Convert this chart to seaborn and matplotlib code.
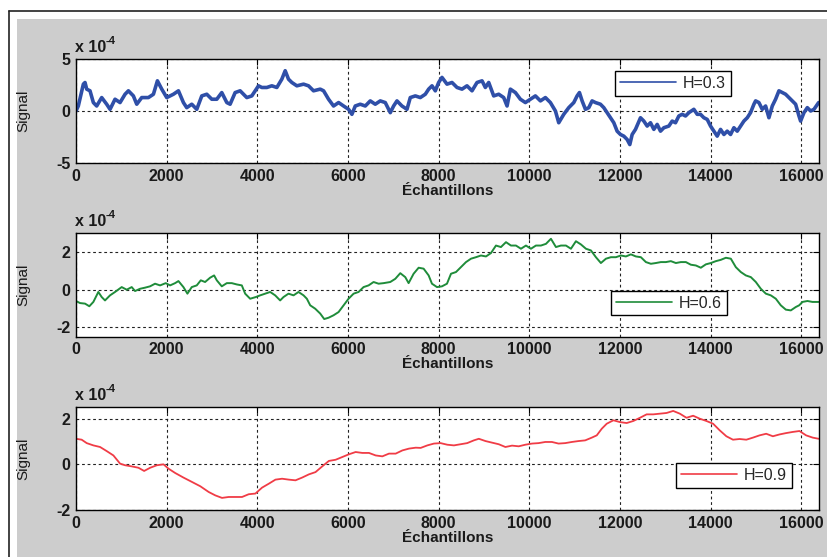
import matplotlib
matplotlib.use("Agg")
import matplotlib.pyplot as plt
import seaborn as sns
from matplotlib.lines import Line2D
from matplotlib.patches import Rectangle

# Sample index (Échantillons) and signal amplitude in units of 1e-4
samples_h03 = [0, 51, 162, 199, 236, 309, 383, 456, 567, 677, 751, 861, 972, 1082, 1156, 1266, 1340, 1450,
               1597, 1708, 1796, 1892, 2002, 2149, 2260, 2370, 2443, 2554, 2664, 2775, 2885, 2996, 3106,
               3216, 3327, 3400, 3511, 3621, 3768, 3879, 3952, 4026, 4100, 4210, 4320, 4431, 4541, 4615,
               4688, 4762, 4872, 5020, 5130, 5240, 5388,
               5462, 5572, 5682, 5793, 5903, 6014, 6087, 6161, 6271, 6382, 6492, 6602, 6713, 6823, 6934,
               7007, 7081, 7191, 7302, 7375, 7486, 7596, 7706, 7780, 7854, 7927, 8001, 8074, 8185, 8295,
               8406, 8516, 8626, 8737, 8847, 8958, 9031, 9105, 9215, 9326, 9436, 9510, 9583, 9694, 9804,
               9914, 10025, 10135, 10246, 10356, 10466, 10577, 10650, 10761, 10871,
               10982, 11055, 11107, 11166, 11239, 11313, 11386, 11460, 11570, 11644, 11718, 11791, 11865,
               11938, 12012, 12086, 12159, 12218, 12270, 12343, 12454, 12527, 12601, 12674, 12748, 12822,
               12895, 12969, 13079, 13153, 13226, 13300, 13374, 13447, 13521, 13631, 13705, 13778, 13852,
               13926, 13999, 14073, 14146, 14220, 14294, 14367, 14441, 14514, 14588, 14662, 14735, 14809,
               14882, 14956, 14993, 15066, 15140, 15214, 15287, 15361, 15434, 15508, 15582, 15655, 15729,
               15802, 15876, 15950, 15986, 16060, 16134, 16207, 16281, 16384]
signal_h03 = [0.00, 0.48, 2.58, 2.74, 2.10, 1.94, 0.81, 0.48, 1.29, 0.65, 0.16, 1.13, 0.81, 1.61, 1.94, 1.45,
              0.65, 1.29, 1.29, 1.61, 2.90, 2.10, 1.29, 1.61, 1.94, 0.81, 0.32, 0.65, 0.16, 1.45, 1.61, 1.13,
              1.13, 1.77, 0.81, 0.65, 1.77, 1.94, 1.29, 1.45, 1.94, 2.42, 2.26, 2.26, 2.42, 2.26, 3.06, 3.87,
              3.06, 2.74, 2.42, 2.58, 2.42, 1.94, 2.10,
              1.94, 1.13, 0.48, 0.81, 0.48, 0.16, -0.32, 0.48, 0.65, 0.48, 0.97, 0.65, 0.97, 0.81, -0.16,
              0.48, 0.97, 0.48, 0.16, 1.29, 1.45, 1.29, 1.61, 2.10, 2.42, 1.94, 2.74, 3.23, 2.58, 2.74,
              2.26, 2.10, 2.42, 1.94, 2.74, 2.90, 2.26, 2.74, 1.45, 1.61, 1.29, 0.48, 2.10, 1.77, 1.13,
              0.81, 1.13, 1.45, 0.97, 1.29, 0.81, 0.00, -1.13, -0.32, 0.32,
              0.81, 1.45, 1.77, 0.97, 0.16, 0.32, 0.97, 0.81, 0.65, 0.32, -0.16, -0.65, -1.13, -1.94,
              -2.26, -2.42, -2.74, -3.23, -2.26, -1.77, -0.65, -0.97, -1.45, -1.13, -1.77, -1.29, -1.94,
              -1.61, -1.45, -0.97, -1.13, -0.48, -0.32, -0.48, -0.16, 0.16, -0.32, -0.32, -0.65, -0.81,
              -1.45, -1.94, -2.42, -1.77, -2.26, -1.94, -2.26, -1.61, -1.94, -1.45, -0.97, -0.65, -0.16,
              0.65, 0.97, 0.81, 0.16, 0.48, -0.65, 0.48, 1.13, 1.94, 1.77, 1.61, 1.29, 0.97, 0.65, -0.48,
              -0.97, -0.16, 0.32, 0.00, 0.16, 0.81]

samples_h06 = [0, 88, 199, 294, 383, 493, 567, 640, 751, 861, 1008, 1119, 1229, 1303, 1413, 1524, 1634, 1744,
               1855, 1980, 2076, 2186, 2260, 2370, 2458, 2554, 2664, 2753, 2848, 2959, 3047, 3106, 3216,
               3327, 3437, 3548, 3658, 3732, 3842, 3967, 4063, 4173, 4284, 4394, 4504, 4578, 4688, 4799,
               4909, 5020, 5093, 5167, 5277, 5388, 5476, 5572, 5682, 5792, 5903, 6013, 6124, 6234, 6344,
               6455, 6565, 6676, 6786, 6933, 7044, 7154, 7264, 7338, 7448, 7559, 7669, 7780, 7853, 7964,
               8074, 8184,
               8273, 8383, 8493, 8604, 8714, 8824, 8934, 9045, 9155, 9265, 9375, 9486, 9596, 9706, 9816,
               9927, 10037, 10147, 10257, 10368, 10478, 10588, 10698, 10809, 10919, 11029, 11139, 11250,
               11360, 11470, 11580, 11691, 11801, 11911, 12021, 12132, 12242, 12352, 12462, 12573, 12683,
               12793, 12903, 13014, 13124, 13234, 13344, 13455, 13565, 13675, 13785, 13896, 14006, 14116,
               14226, 14337, 14447, 14557, 14667, 14778, 14888, 14998, 15108, 15219, 15329, 15439, 15549,
               15660, 15770, 15880, 15954, 16027, 16137, 16248, 16384]
signal_h06 = [-0.60, -0.71, -0.74, -0.88, -0.65, -0.12, -0.39, -0.57, -0.30, -0.12, 0.14, 0.00, 0.14, -0.07,
              0.05, 0.11, 0.18, 0.32, 0.23, 0.35, 0.23, 0.35, 0.46, 0.14, -0.21, 0.14, 0.23, 0.50, 0.41,
              0.64, 0.76, 0.50, 0.18, 0.35, 0.35, 0.28, 0.23, -0.21, -0.48, -0.39, -0.30, -0.21, -0.12,
              -0.30, -0.57, -0.39, -0.21, -0.30, -0.12, -0.30, -0.48, -0.83, -1.01, -1.27, -1.56, -1.49,
              -1.36, -1.19, -0.83, -0.48, -0.21, -0.12, 0.14, 0.23, 0.41, 0.32, 0.35, 0.41, 0.58, 0.88,
              0.67, 0.35, 0.85, 1.17, 1.12, 0.76, 0.32, 0.14, 0.18, 0.32,
              0.85, 0.94, 1.20, 1.47, 1.65, 1.73, 1.82, 1.77, 1.95, 2.35, 2.27, 2.53, 2.35, 2.35, 2.18,
              2.35, 2.18, 2.35, 2.35, 2.44, 2.71, 2.27, 2.35, 2.35, 2.18, 2.58, 2.41, 2.18, 2.09, 1.73,
              1.42, 1.65, 1.73, 1.73, 1.82, 1.77, 1.88, 1.77, 1.73, 1.47, 1.38, 1.42, 1.47, 1.47, 1.52,
              1.42, 1.47, 1.47, 1.33, 1.29, 1.17, 1.35, 1.42, 1.52, 1.59, 1.70, 1.65, 1.20, 0.94, 0.76,
              0.67, 0.41, 0.05, -0.21, -0.30, -0.48, -0.83, -1.06, -1.10, -0.92, -0.83, -0.65, -0.60,
              -0.65, -0.65]

samples_h09 = [0, 125, 236, 383, 531, 678, 825, 973, 1083, 1231, 1378, 1503, 1636, 1784, 1931, 2041, 2189,
               2371, 2557, 2742, 2926, 3073, 3221, 3368, 3515, 3663, 3810, 3958, 4105, 4252, 4400, 4547,
               4695, 4842, 4989, 5137, 5284, 5432, 5579, 5726, 5874, 6021, 6169, 6316, 6463, 6611, 6758,
               6905, 7053, 7200, 7348, 7495,
               7604, 7751, 7897, 8044, 8191, 8337, 8484, 8630, 8777, 8887, 9034, 9180, 9327, 9473, 9620,
               9767, 9913, 10060, 10206, 10353, 10500, 10646, 10793, 10939, 11086, 11233, 11379, 11489,
               11599, 11709, 11856, 12002, 12149, 12295, 12442, 12589, 12735, 12882, 13028, 13175, 13322,
               13468, 13615, 13761, 13908, 14055, 14201, 14348, 14494, 14641, 14788, 14934, 15081, 15227,
               15374, 15521, 15667, 15814, 15961, 16107, 16254, 16384]
signal_h09 = [1.12, 1.08, 0.93, 0.83, 0.76, 0.58, 0.39, 0.03, -0.04, -0.09, -0.15, -0.29, -0.15, -0.04, 0.00,
              -0.19, -0.38, -0.58, -0.77, -0.96, -1.21, -1.36, -1.47, -1.43, -1.43, -1.43, -1.31, -1.28,
              -1.02, -0.85, -0.67, -0.63, -0.67, -0.70, -0.58, -0.44, -0.34, -0.09, 0.15, 0.20, 0.32,
              0.44, 0.54, 0.50, 0.50, 0.39, 0.35, 0.47, 0.47, 0.61, 0.69, 0.73,
              0.72, 0.83, 0.91, 0.93, 0.86, 0.83, 0.88, 0.93, 1.05, 1.12, 1.02, 0.95, 0.88, 0.76, 0.82,
              0.79, 0.86, 0.91, 0.93, 0.98, 0.98, 0.91, 0.93, 0.98, 1.02, 1.05, 1.17, 1.27, 1.56, 1.78,
              1.93, 1.85, 1.81, 1.90, 2.04, 2.19, 2.19, 2.22, 2.25, 2.34, 2.22, 2.04, 2.13, 2.00, 1.90,
              1.78, 1.49, 1.23, 1.08, 1.11, 1.08, 1.17, 1.27, 1.34, 1.23, 1.31, 1.37, 1.42, 1.46, 1.27,
              1.17, 1.12]

labels = ["H=0.3", "H=0.6", "H=0.9"]
colors = ["#2f4fa8", "#1f8c3a", "#f03c46"]
x_ticks = [0, 2000, 4000, 6000, 8000, 10000, 12000, 14000, 16000]
y_ticks = [[-5, 0, 5], [-2, 0, 2], [-2, 0, 2]]
y_limits = [(-5, 5), (-2.5, 3), (-2, 2.5)]
n_samples = 16384

sns.set_theme(style="white")
plt.rcParams["font.family"] = ["Liberation Sans", "DejaVu Sans"]
plt.rcParams["axes.unicode_minus"] = False

fig = plt.figure(figsize=(8.27, 5.57), dpi=100, facecolor="white")
W, H = 827.0, 557.0

# grey window panel with dark frame
fig.add_artist(Rectangle((17 / W, 0), 1 - 17 / W, 1 - 19 / H, transform=fig.transFigure,
                         facecolor="#cdcdcd", edgecolor="none", zorder=0))
fig.add_artist(Line2D([9 / W, 1], [1 - 11 / H] * 2, transform=fig.transFigure, color="#222222", lw=1.2))
fig.add_artist(Line2D([9 / W] * 2, [0, 1 - 11 / H], transform=fig.transFigure, color="#222222", lw=1.2))

positions = [[0.0919, 0.7074, 0.898, 0.1867],
             [0.0919, 0.3955, 0.898, 0.1856],
             [0.0919, 0.0844, 0.898, 0.1844]]
legend_anchor = [(0.7257, 0.8846), (0.7208, 0.4449), (0.8083, 0.4547)]
series = [(samples_h03, signal_h03, 2.6), (samples_h06, signal_h06, 1.4), (samples_h09, signal_h09, 1.3)]

for i, (xs, ys, lw) in enumerate(series):
    ax = fig.add_axes(positions[i])
    ax.set_facecolor("white")
    sns.lineplot(x=xs, y=ys, ax=ax, color=colors[i], lw=lw, label=labels[i],
                 estimator=None, sort=False)
    ax.set_xlim(0, n_samples)
    ax.set_ylim(*y_limits[i])
    ax.set_xticks(x_ticks)
    ax.set_yticks(y_ticks[i])
    ax.set_xticklabels([str(t) for t in x_ticks])
    ax.set_yticklabels([str(t) for t in y_ticks[i]])
    ax.tick_params(direction="in", length=4, width=0.8, top=True, right=True,
                   labelsize=11.5, pad=4, colors="black")
    for lab in ax.get_xticklabels() + ax.get_yticklabels():
        lab.set_fontweight("bold")
        lab.set_color("#1a1a1a")
    for sp in ax.spines.values():
        sp.set_color("black")
        sp.set_linewidth(1.0)
    ax.grid(True, linestyle=(0, (2.5, 2.5)), color="#222222", lw=0.8)
    ax.set_axisbelow(True)

    ax.set_xlabel("Échantillons", fontsize=11, fontweight="bold", color="#1a1a1a")
    ax.set_ylabel("Signal", fontsize=11, color="#1a1a1a")
    ax.xaxis.set_label_coords(0.5, -0.20)
    ax.yaxis.set_label_coords(-0.062, 0.5)

    # exponent marker above the y axis
    ax.annotate("x 10", xy=(0, 1), xycoords="axes fraction", xytext=(-1, 5),
                textcoords="offset points", fontsize=11.5, fontweight="bold",
                color="#1a1a1a", ha="left", va="baseline")
    ax.annotate("-4", xy=(0, 1), xytext=(21.5, 11), xycoords="axes fraction",
                textcoords="offset points", fontsize=8, fontweight="bold",
                color="#1a1a1a", ha="left", va="baseline")

    leg = ax.legend(loc="upper left", bbox_to_anchor=legend_anchor[i], frameon=True,
                    fancybox=False, edgecolor="black", framealpha=1, fontsize=11.5,
                    handlelength=3.5, handletextpad=0.45, borderpad=0.3, borderaxespad=0)
    leg.get_frame().set_linewidth(1.0)
    for line in leg.get_lines():
        line.set_linewidth(1.2)

fig.savefig("out.png", dpi=100, facecolor=fig.get_facecolor())
